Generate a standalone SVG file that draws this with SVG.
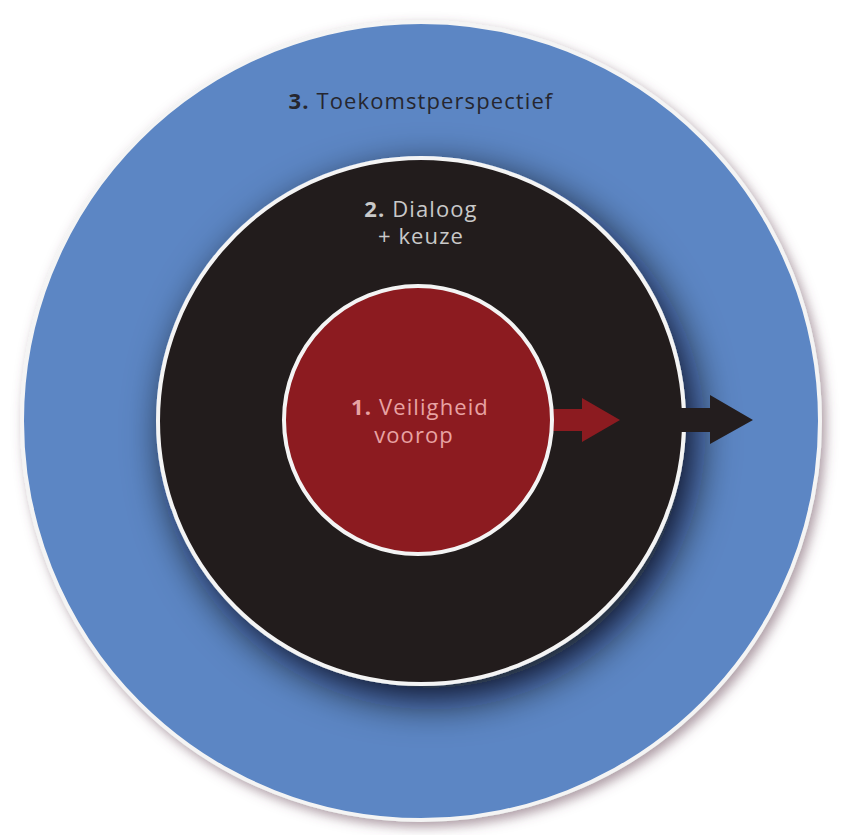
<svg xmlns="http://www.w3.org/2000/svg" width="841" height="835" viewBox="0 0 841 835">
<defs>
<filter id="outerShadow" x="-10%" y="-10%" width="120%" height="120%">
<feGaussianBlur in="SourceAlpha" stdDeviation="6"/>
<feOffset dx="4" dy="5" result="b"/>
<feFlood flood-color="#6a4a5a" flood-opacity="0.55"/>
<feComposite in2="b" operator="in"/>
<feMerge><feMergeNode/><feMergeNode in="SourceGraphic"/></feMerge>
</filter>
<filter id="innerShadow" x="-20%" y="-20%" width="140%" height="140%">
<feGaussianBlur in="SourceAlpha" stdDeviation="20"/>
<feOffset dx="10" dy="14" result="b"/>
<feFlood flood-color="#0a0a14" flood-opacity="0.9"/>
<feComposite in2="b" operator="in"/>
<feMerge><feMergeNode/><feMergeNode in="SourceGraphic"/></feMerge>
</filter>
<style>
.lbl{font-family:"Open Sans","Liberation Sans",sans-serif;font-size:22px;letter-spacing:1.1px;text-anchor:middle}
.num{font-weight:bold}
</style>
</defs>
<rect width="841" height="835" fill="#ffffff"/>
<g id="node-3">
<circle cx="421" cy="421" r="399" fill="#5b86c4" stroke="#f4f4f4" stroke-width="4" filter="url(#outerShadow)"/>
<text class="lbl" x="421" y="109" fill="#26262f"><tspan class="num">3.</tspan> Toekomstperspectief</text>
</g>
<g id="node-2">
<circle cx="421" cy="421" r="263" fill="#231d1e" stroke="#f4f4f4" stroke-width="4" filter="url(#innerShadow)"/>
<text class="lbl" x="421" y="217" fill="#c9c9c9"><tspan class="num">2.</tspan> Dialoog</text>
<text class="lbl" x="421" y="244" fill="#c9c9c9">+ keuze</text>
</g>
<g id="connectors">
<polygon points="680,408 710,408 710,395 753,420 710,444 710,432 680,432" fill="#231d1e"/>
<polygon points="549,409 582,409 582,398 620,420 582,442 582,431 549,431" fill="#8c1b20"/>
</g>
<g id="node-1">
<circle cx="418" cy="420" r="134" fill="#8c1b20" stroke="#f4f4f4" stroke-width="4"/>
<text class="lbl" x="420" y="415" fill="#e8a3a3"><tspan class="num">1.</tspan> Veiligheid</text>
<text class="lbl" x="414" y="443" fill="#e8a3a3">voorop</text>
</g>
</svg>
